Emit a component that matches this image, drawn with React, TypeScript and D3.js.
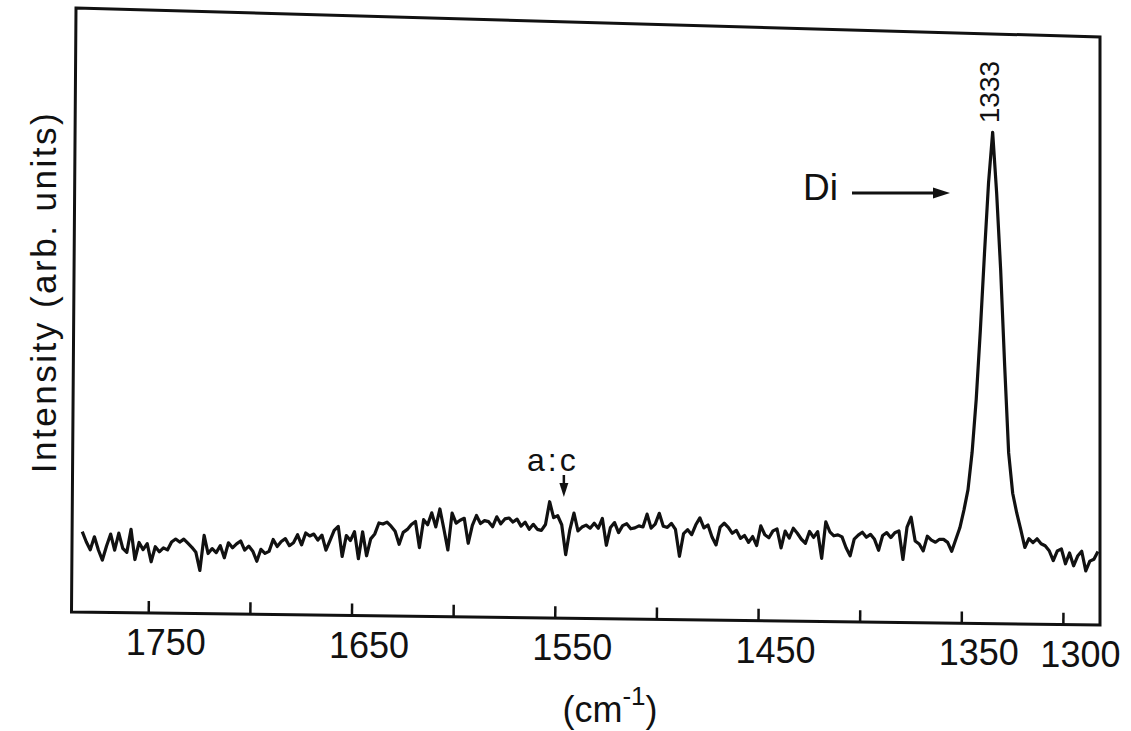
import React from 'react';
import * as d3 from 'd3';

const W = 1131;
const H = 731;

// spectrum, one sample every 2 cm-1 from 1783 cm-1 downwards
const waveStart = 1783;
const waveStep = 2;
// 1783 .. 1685
const region1 = [80,70,62,75,62,52,66,78,62,79, 64,60,83,53,70,63,69,51,66,61, 65,63,71,74,71,74,70,66,61,43, 78,60,65,61,68,56,71,66,70,73, 64,68,63,53,65,61,63,75,68,73];
// 1683 .. 1585
const region2 = [76,69,72,80,70,82,79,81,75,80, 65,75,85,89,59,80,75,84,57,84, 60,77,82,93,92,94,90,85,72,84, 87,92,95,69,97,92,104,90,108,88, 67,104,94,97,99,74,92,102,94,97];
// 1583 .. 1483
const region3 = [96,91,101,94,99,100,96,99,92,96, 89,94,89,88,94,117,101,103,94,64, 89,106,88,92,94,91,96,91,101,74, 92,97,87,94,96,91,92,94,93,106, 92,96,107,94,93,97,91,64,87,91, 86];
// 1481 .. 1383
const region4 = [96,103,93,96,84,76,94,98,94,88, 91,83,86,79,85,76,96,87,84,91, 93,74,91,84,94,89,83,79,91,85, 91,64,101,91,87,88,86,75,67,84, 88,91,86,89,84,73,88,91,86,91];
// 1381 .. 1283, diamond line
const region5 = [93,64,97,107,83,80,73,88,84,82, 85,85,82,73,85,97,115,136,174,228, 298,376,449,500,438,360,263,174,133,113, 96,78,87,83,87,82,80,75,65,75, 77,62,73,60,70,75,55,65,67,75];

const tickValues = [1750, 1700, 1650, 1600, 1550, 1500, 1450, 1400, 1350, 1300];
const labelValues = [1750, 1650, 1550, 1450, 1350, 1300];
const xDomain = [1788, 1282];
const yDomain = [0, 600];

const peakPos = 1335;
const peakText = '1333';
const peakName = 'Di';
const acPos = 1546;
const acText = 'a:c';
const xTitle = '(cm';
const yTitle = 'Intensity (arb. units)';

// the scanned frame is slightly out of square: TL, TR, BR, BL
const frameQuad: [number, number][] = [[76, 8], [1100, 37], [1100, 625], [71.5, 612]];

// bilinear map of the unit square onto the scanned frame
function makeProjector(q: [number, number][]) {
  const [tl, tr, br, bl] = q;
  return (u: number, v: number): [number, number] => {
    const top = [tl[0] + (tr[0] - tl[0]) * u, tl[1] + (tr[1] - tl[1]) * u];
    const bot = [bl[0] + (br[0] - bl[0]) * u, bl[1] + (br[1] - bl[1]) * u];
    return [top[0] + (bot[0] - top[0]) * v, top[1] + (bot[1] - top[1]) * v];
  };
}

const font = '"Liberation Sans", Arial, sans-serif';

export default function App() {
  const intensity = [...region1, ...region2, ...region3, ...region4, ...region5];
  const data = intensity.map((v, i) => ({ w: waveStart - i * waveStep, v }));

  const xs = d3.scaleLinear().domain(xDomain).range([0, 1]);
  const ys = d3.scaleLinear().domain(yDomain).range([1, 0]);
  const proj = makeProjector(frameQuad);
  const P = (w: number, v: number) => proj(xs(w), ys(v));

  const line = d3.line<{ w: number; v: number }>()
    .x(d => P(d.w, d.v)[0])
    .y(d => P(d.w, d.v)[1]);

  const frame = d3.line()(frameQuad) + 'Z';

  const [px, py] = P(peakPos, 500);
  const [ax] = P(acPos, 120);

  return (
    <svg width={W} height={H} style={{ position: 'absolute', left: 0, top: 0, background: '#fff' }}>
      <path d={frame} fill="none" stroke="#111" strokeWidth={3} />
      {tickValues.map(t => {
        const [x1, y1] = P(t, 0);
        const [x2, y2] = P(t, 12);
        return <line key={t} x1={x1} y1={y1} x2={x2} y2={y2} stroke="#111" strokeWidth={2.5} />;
      })}
      {labelValues.map(t => {
        const [x, y] = P(t, 0);
        return (
          <text key={t} x={x + 17} y={y + 42} textAnchor="middle" fontFamily={font} fontSize={36} fill="#111">
            {t}
          </text>
        );
      })}
      <path d={line(data) || ''} fill="none" stroke="#111" strokeWidth={3.2} strokeLinejoin="round" />

      {/* axis titles */}
      <text transform="translate(56,292) rotate(-90)" textAnchor="middle" fontFamily={font} fontSize={35}
        letterSpacing={2.5} fill="#111">{yTitle}</text>
      <text x={610} y={722} textAnchor="middle" fontFamily={font} fontSize={36} fill="#111">
        {xTitle}
        <tspan dy={-17} fontSize={26}>-1</tspan>
        <tspan dy={17}>)</tspan>
      </text>

      {/* peak annotations */}
      <text transform={`translate(${px + 6},${py - 9}) rotate(-90)`} fontFamily={font} fontSize={28} fill="#111">
        {peakText}
      </text>
      <text x={803} y={200} fontFamily={font} fontSize={37} fill="#111">{peakName}</text>
      <line x1={852} y1={193} x2={936} y2={193} stroke="#111" strokeWidth={3} />
      <path d="M950,193 L933,187.5 L933,198.5 Z" fill="#111" />

      <text x={ax - 11} y={471} textAnchor="middle" fontFamily={font} fontSize={32} letterSpacing={3}
        fill="#111">{acText}</text>
      <line x1={ax} y1={475} x2={ax} y2={485} stroke="#111" strokeWidth={2.5} />
      <path d={`M${ax},497 L${ax - 4.5},483 L${ax + 4.5},483 Z`} fill="#111" />
    </svg>
  );
}
